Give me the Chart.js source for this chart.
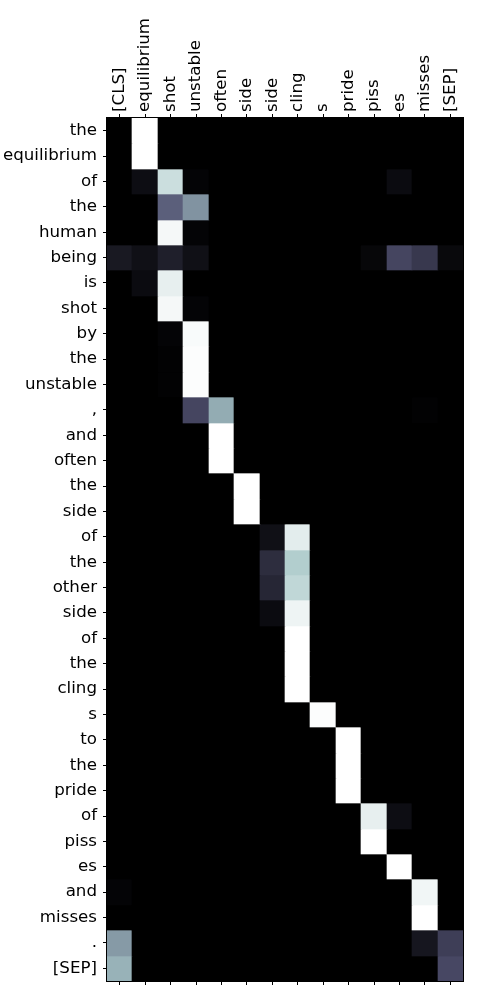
<!DOCTYPE html>
<html>
<head>
<meta charset="utf-8">
<script src="https://cdn.jsdelivr.net/npm/chart.js@4/dist/chart.umd.min.js"></script>
<style>
html,body{margin:0;padding:0;background:#fff;}
#wrap{width:500px;height:1000px;}
</style>
</head>
<body>
<div id="wrap"><canvas id="c" width="500" height="1000"></canvas></div>
<script>
const colLabels = ["[CLS]","equilibrium","shot","unstable","often","side","side","cling","s","pride","piss","es","misses","[SEP]"];
const rowLabels = ["the","equilibrium","of","the","human","being","is","shot","by","the","unstable",",","and","often","the","side","of","the","other","side","of","the","cling","s","to","the","pride","of","piss","es","and","misses",".","[SEP]"];
const attention = [
  [0,1,0,0,0,0,0,0,0,0,0,0,0,0],
  [0,1,0,0,0,0,0,0,0,0,0,0,0,0],
  [0,0.06,0.85,0.02,0,0,0,0,0,0,0,0.05,0,0],
  [0,0,0.41,0.58,0,0,0,0,0,0,0,0,0,0],
  [0,0,0.97,0.02,0,0,0,0,0,0,0,0,0,0],
  [0.11,0.07,0.14,0.07,0,0,0,0,0,0,0.03,0.31,0.25,0.04],
  [0,0.05,0.93,0,0,0,0,0,0,0,0,0,0,0],
  [0,0,0.97,0.02,0,0,0,0,0,0,0,0,0,0],
  [0,0,0.02,0.98,0,0,0,0,0,0,0,0,0,0],
  [0,0,0.01,0.99,0,0,0,0,0,0,0,0,0,0],
  [0,0,0.01,0.99,0,0,0,0,0,0,0,0,0,0],
  [0,0,0,0.31,0.66,0,0,0,0,0,0,0,0.01,0],
  [0,0,0,0,1,0,0,0,0,0,0,0,0,0],
  [0,0,0,0,1,0,0,0,0,0,0,0,0,0],
  [0,0,0,0,0,1,0,0,0,0,0,0,0,0],
  [0,0,0,0,0,1,0,0,0,0,0,0,0,0],
  [0,0,0,0,0,0,0.07,0.92,0,0,0,0,0,0],
  [0,0,0,0,0,0,0.2,0.78,0,0,0,0,0,0],
  [0,0,0,0,0,0,0.17,0.82,0,0,0,0,0,0],
  [0,0,0,0,0,0,0.05,0.95,0,0,0,0,0,0],
  [0,0,0,0,0,0,0,1,0,0,0,0,0,0],
  [0,0,0,0,0,0,0,1,0,0,0,0,0,0],
  [0,0,0,0,0,0,0,1,0,0,0,0,0,0],
  [0,0,0,0,0,0,0,0,0.99,0,0,0,0,0],
  [0,0,0,0,0,0,0,0,0,1,0,0,0,0],
  [0,0,0,0,0,0,0,0,0,1,0,0,0,0],
  [0,0,0,0,0,0,0,0,0,1,0,0,0,0],
  [0,0,0,0,0,0,0,0,0,0,0.93,0.06,0,0],
  [0,0,0,0,0,0,0,0,0,0,1,0,0,0],
  [0,0,0,0,0,0,0,0,0,0,0,1,0,0],
  [0.02,0,0,0,0,0,0,0,0,0,0,0,0.96,0],
  [0,0,0,0,0,0,0,0,0,0,0,0,1,0],
  [0.6,0,0,0,0,0,0,0,0,0,0,0,0.1,0.28],
  [0.68,0,0,0,0,0,0,0,0,0,0,0,0,0.32]
];

// matplotlib "bone" colormap
function interp(stops, v){
  for(let i=1;i<stops.length;i++){
    if(v<=stops[i][0]){
      const a=stops[i-1], b=stops[i];
      const t=(v-a[0])/(b[0]-a[0]);
      return a[1]+t*(b[1]-a[1]);
    }
  }
  return stops[stops.length-1][1];
}
const R=[[0,0],[0.746032,0.652778],[1,1]];
const G=[[0,0],[0.365079,0.319444],[0.746032,0.777778],[1,1]];
const B=[[0,0],[0.365079,0.444444],[1,1]];
function bone(v){
  v=Math.max(0,Math.min(1,v));
  const r=Math.round(interp(R,v)*255), g=Math.round(interp(G,v)*255), b=Math.round(interp(B,v)*255);
  return `rgb(${r},${g},${b})`;
}

const FONT_SIZE = 16.67;
Chart.defaults.font.family = "'DejaVu Sans', sans-serif";
Chart.defaults.font.size = FONT_SIZE;
Chart.defaults.color = '#000';

const datasets = rowLabels.map((lab, i) => ({
  label: lab,
  data: colLabels.map(() => [i, i + 1]),
  backgroundColor: attention[i].map(bone),
  borderWidth: 0,
  barPercentage: 1,
  categoryPercentage: 1,
  grouped: false
}));

// snap cell edges to whole pixels (like imshow) so no seams appear between cells
const snap = {
  id: 'snap',
  beforeDatasetsDraw(chart){
    chart.data.datasets.forEach((ds, di) => {
      chart.getDatasetMeta(di).data.forEach(el => {
        const l = Math.round(el.x - el.width / 2), r = Math.round(el.x + el.width / 2);
        el.x = (l + r) / 2; el.width = r - l;
        el.y = Math.round(el.y); el.base = Math.round(el.base);
        if (el.height !== undefined) el.height = el.base - el.y;
      });
    });
  }
};

const frame = {
  id: 'frame',
  afterDatasetsDraw(chart){
    const {ctx, chartArea:a} = chart;
    ctx.save();
    ctx.strokeStyle = '#000';
    ctx.lineWidth = 1;
    ctx.strokeRect(Math.round(a.left) - 0.5, Math.round(a.top) - 0.5, Math.round(a.right) - Math.round(a.left) + 1, Math.round(a.bottom) - Math.round(a.top) + 1);
    ctx.restore();
  }
};

new Chart(document.getElementById('c'), {
  type: 'bar',
  data: { labels: colLabels, datasets },
  options: {
    responsive: false,
    devicePixelRatio: 1,
    animation: false,
    layout: { padding: { left: 0, right: 37, top: 0, bottom: 0 } },
    plugins: { legend: { display: false }, tooltip: { enabled: false } },
    scales: {
      x: {
        position: 'top',
        offset: true,
        grid: { display: true, drawOnChartArea: false, drawTicks: true, tickLength: 4, color: '#000', offset: false },
        border: { display: true, color: '#000' },
        ticks: { minRotation: 90, maxRotation: 90, padding: 2, autoSkip: false, color: '#000', labelOffset: FONT_SIZE * 1.2 },
        afterFit(s){ s.height = 118; }
      },
      x2: {
        position: 'bottom',
        type: 'category',
        labels: colLabels,
        offset: true,
        grid: { display: true, drawOnChartArea: false, drawTicks: true, tickLength: 4, color: '#000', offset: false },
        border: { display: true, color: '#000' },
        ticks: { display: true, autoSkip: false, callback: () => '' , padding: 0},
        afterFit(s){ s.height = 19; }
      },
      y: {
        type: 'linear',
        reverse: true,
        min: 0,
        max: rowLabels.length,
        grid: { display: true, drawOnChartArea: false, drawTicks: true, tickLength: 4, color: '#000' },
        border: { display: true, color: '#000' },
        afterBuildTicks(s){ s.ticks = rowLabels.map((_, i) => ({ value: i + 0.5 })); },
        ticks: { autoSkip: false, padding: 6, callback: (v) => rowLabels[Math.floor(v)] },
        afterFit(s){ s.width = 107; }
      }
    }
  },
  plugins: [snap, frame]
});
</script>
</body>
</html>
